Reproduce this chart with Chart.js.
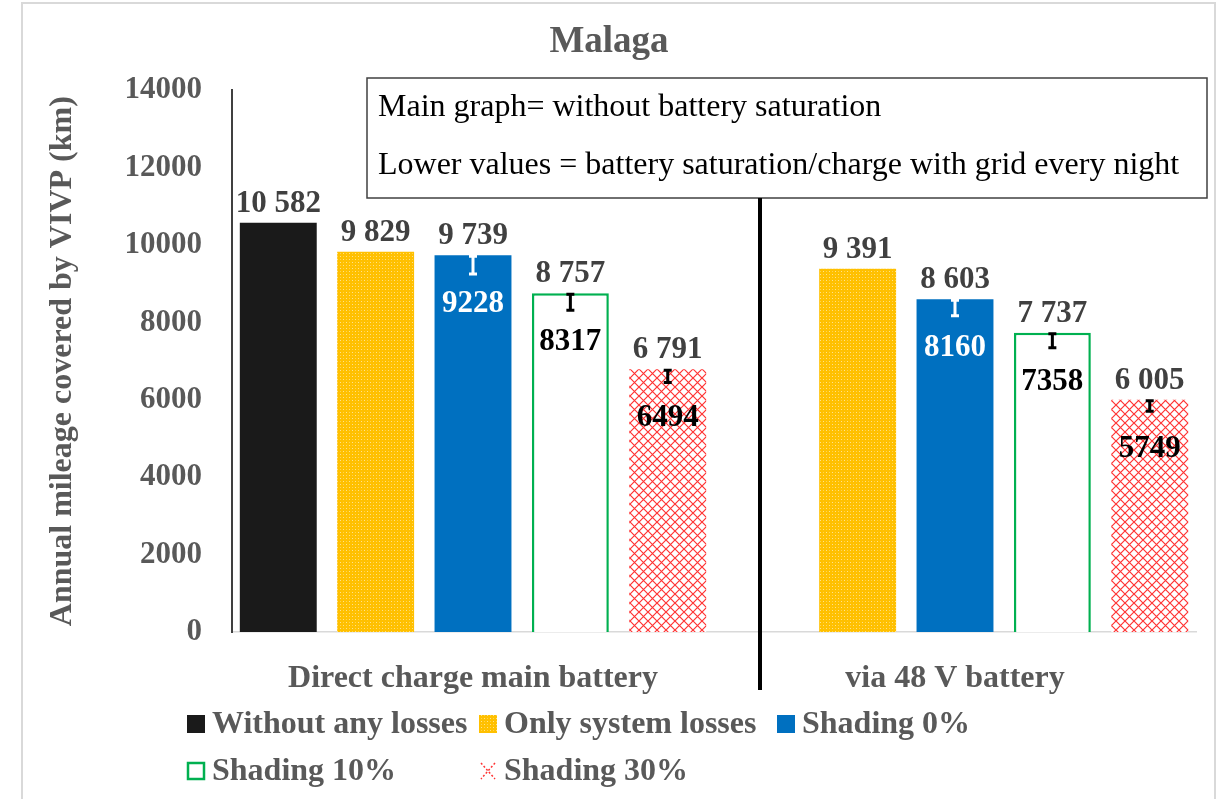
<!DOCTYPE html>
<html>
<head>
<meta charset="utf-8">
<script src="https://cdn.jsdelivr.net/npm/chart.js@4.4.1/dist/chart.umd.min.js"></script>
<style>
  html, body { margin: 0; padding: 0; background: #fff; }
  #wrap { position: relative; width: 1225px; height: 799px; }
</style>
</head>
<body>
<div id="wrap"><canvas id="malagaChart"></canvas></div>
<script>
// --- datos ---
const categories = ['Direct charge main battery', 'via 48 V battery'];
const seriesNames = ['Without any losses', 'Only system losses', 'Shading 0%', 'Shading 10%', 'Shading 30%'];

const withoutLosses = [10582, null];
const systemLosses = [9829, 9391];
const shading0 = [9739, 8603];
const shading10 = [8757, 7737];
const shading30 = [6791, 6005];

// lower values (battery saturation / grid charge every night)
const shading0Low = [9228, 8160];
const shading10Low = [8317, 7358];
const shading30Low = [6494, 5749];

// minus error bars
const shading0Err = [487, 430];
const shading10Err = [438, 387];
const shading30Err = [340, 300];

const yTicks = [0, 2000, 4000, 6000, 8000, 10000, 12000, 14000];

const boxLines = [
    'Main graph= without battery saturation',
    'Lower values = battery saturation/charge with grid every night'
];

const FONT = "'Liberation Serif', 'Times New Roman', serif";
const GREY = '#595959';

// --- patrones ---
function yellowPattern() {
    const c = document.createElement('canvas');
    c.width = 6; c.height = 6;
    const g = c.getContext('2d');
    g.fillStyle = '#FFC000';
    g.fillRect(0, 0, 6, 6);
    g.fillStyle = 'rgba(255,255,255,0.55)';
    g.fillRect(1, 1, 1, 1);
    g.fillRect(4, 4, 1, 1);
    g.fillStyle = 'rgba(255,255,255,0.3)';
    g.fillRect(4, 1, 1, 1);
    g.fillRect(1, 4, 1, 1);
    return g.createPattern(c, 'repeat');
}

function redPattern() {
    const c = document.createElement('canvas');
    c.width = 9; c.height = 9;
    const g = c.getContext('2d');
    g.fillStyle = '#fff';
    g.fillRect(0, 0, 9, 9);
    g.strokeStyle = '#FF3333';
    g.lineWidth = 1.2;
    g.beginPath();
    g.moveTo(0, 0); g.lineTo(9, 9);
    g.moveTo(9, 0); g.lineTo(0, 9);
    g.stroke();
    return g.createPattern(c, 'repeat');
}

const pYellow = yellowPattern();
const pRed = redPattern();

function fmtSpace(v) {
    return String(v).replace(/\B(?=(\d{3})+(?!\d))/g, ' ');
}

// --- plugin: marco, caja de texto, separador, etiquetas, barras de error, leyenda ---
const extras = {
    id: 'extras',
    beforeDraw(chart) {
        const ctx = chart.ctx;
        ctx.save();
        ctx.strokeStyle = '#d9d9d9';
        ctx.lineWidth = 2;
        ctx.strokeRect(22, 3, 1193, 820);
        ctx.restore();
    },
    afterDatasetsDraw(chart) {
        const ctx = chart.ctx;
        const yScale = chart.scales.y;
        ctx.save();
        ctx.textAlign = 'center';
        ctx.textBaseline = 'middle';

        chart.data.datasets.forEach((ds, i) => {
            const meta = chart.getDatasetMeta(i);
            meta.data.forEach((bar, j) => {
                const v = ds.data[j];
                if (v == null) return;

                // error bar (minus only)
                if (ds.err) {
                    const yb = yScale.getPixelForValue(v - ds.err[j]);
                    ctx.strokeStyle = ds.errColor;
                    ctx.lineWidth = 3;
                    ctx.beginPath();
                    ctx.moveTo(bar.x, bar.y);
                    ctx.lineTo(bar.x, yb);
                    ctx.moveTo(bar.x - 4, bar.y + 1);
                    ctx.lineTo(bar.x + 4, bar.y + 1);
                    ctx.moveTo(bar.x - 4, yb);
                    ctx.lineTo(bar.x + 4, yb);
                    ctx.stroke();
                }

                // top value
                ctx.font = 'bold 31px ' + FONT;
                ctx.fillStyle = '#404040';
                ctx.fillText(fmtSpace(v), bar.x, bar.y - 19);

                // lower value inside bar
                if (ds.low) {
                    ctx.fillStyle = ds.lowColor;
                    ctx.fillText(String(ds.low[j]), bar.x, bar.y + 49);
                }
            });
        });
        ctx.restore();
    },
    afterDraw(chart) {
        const ctx = chart.ctx;
        ctx.save();

        // caja de anotación
        ctx.fillStyle = '#fff';
        ctx.fillRect(367, 78, 840, 120);
        ctx.strokeStyle = '#404040';
        ctx.lineWidth = 1.5;
        ctx.strokeRect(367, 78, 840, 120);
        ctx.fillStyle = '#000';
        ctx.font = '32px ' + FONT;
        ctx.textAlign = 'left';
        ctx.textBaseline = 'middle';
        ctx.fillText(boxLines[0], 378, 108);
        ctx.fillText(boxLines[1], 378, 166);

        // separador
        ctx.strokeStyle = '#000';
        ctx.lineWidth = 4;
        ctx.beginPath();
        ctx.moveTo(760, 198);
        ctx.lineTo(760, 690);
        ctx.stroke();

        // leyenda
        const spots = [[186, 724], [478, 724], [776, 724], [186, 771], [478, 771]];
        ctx.font = 'bold 32px ' + FONT;
        chart.data.datasets.forEach((ds, i) => {
            const [lx, ly] = spots[i];
            if (ds.label === 'Shading 30%') {
                ctx.strokeStyle = '#FF3333';
                ctx.lineWidth = 1.5;
                ctx.setLineDash([2, 2]);
                ctx.beginPath();
                ctx.moveTo(lx + 3, ly - 8); ctx.lineTo(lx + 17, ly + 8);
                ctx.moveTo(lx + 17, ly - 8); ctx.lineTo(lx + 3, ly + 8);
                ctx.stroke();
                ctx.setLineDash([]);
            } else if (ds.label === 'Shading 10%') {
                ctx.strokeStyle = '#00B050';
                ctx.lineWidth = 2.5;
                ctx.strokeRect(lx + 2, ly - 8, 16, 16);
            } else {
                ctx.fillStyle = ds.backgroundColor;
                ctx.fillRect(lx + 1, ly - 9, 18, 18);
            }
            ctx.fillStyle = GREY;
            ctx.textAlign = 'left';
            ctx.fillText(ds.label, lx + 26, ly + 1);
        });
        ctx.restore();
    }
};

const ctxBar = document.getElementById('malagaChart');
new Chart(ctxBar, {
    type: 'bar',
    data: {
        labels: categories,
        datasets: [
            { label: seriesNames[0], data: withoutLosses, backgroundColor: '#1a1a1a' },
            { label: seriesNames[1], data: systemLosses, backgroundColor: pYellow },
            { label: seriesNames[2], data: shading0, backgroundColor: '#0070C0',
              low: shading0Low, lowColor: '#fff', err: shading0Err, errColor: '#fff' },
            { label: seriesNames[3], data: shading10, backgroundColor: '#fff',
              borderColor: '#00B050', borderWidth: 2.5,
              low: shading10Low, lowColor: '#000', err: shading10Err, errColor: '#000' },
            { label: seriesNames[4], data: shading30, backgroundColor: pRed,
              low: shading30Low, lowColor: '#000', err: shading30Err, errColor: '#000' }
        ]
    },
    options: {
        responsive: true,
        maintainAspectRatio: false,
        animation: false,
        datasets: {
            bar: { categoryPercentage: 1.01, barPercentage: 0.79, grouped: true }
        },
        layout: { padding: { left: 22, right: 29, top: 0, bottom: 0 } },
        plugins: {
            legend: { display: false },
            tooltip: { enabled: false },
            title: {
                display: true,
                text: 'Malaga',
                color: GREY,
                font: { family: FONT, size: 37, weight: 'bold' },
                padding: { top: 20, bottom: 26 }
            }
        },
        scales: {
            x: {
                grid: { display: false },
                border: { display: true, color: '#d9d9d9', width: 1.5 },
                ticks: {
                    color: GREY,
                    font: { family: FONT, size: 32, weight: 'bold' },
                    padding: 20
                },
                afterFit: s => { s.height = 167; }
            },
            y: {
                min: 0,
                max: 14000,
                afterBuildTicks: s => { s.ticks = yTicks.map(v => ({ value: v })); },
                grid: { display: false },
                border: { display: true, color: '#404040', width: 2 },
                ticks: {
                    color: GREY,
                    font: { family: FONT, size: 31, weight: 'bold' },
                    padding: 22,
                    callback: v => String(v)
                },
                title: {
                    display: true,
                    text: 'Annual mileage covered by VIVP (km)',
                    color: GREY,
                    font: { family: FONT, size: 32, weight: 'bold' },
                    padding: { top: 22, bottom: 0 }
                },
                afterFit: s => { s.width = 210; }
            }
        }
    },
    plugins: [extras]
});
</script>
</body>
</html>
